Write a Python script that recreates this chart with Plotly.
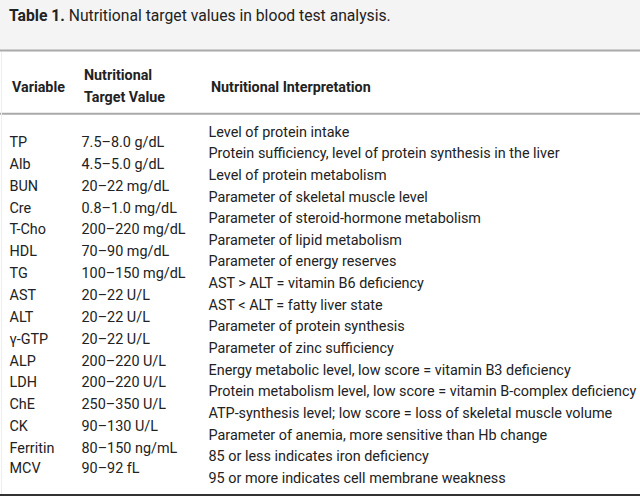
import plotly.graph_objects as go

W, H = 640, 498

variables = ["TP", "Alb", "BUN", "Cre", "T-Cho", "HDL", "TG", "AST", "ALT",
             "γ-GTP", "ALP", "LDH", "ChE", "CK", "Ferritin", "MCV"]
target_values = ["7.5–8.0 g/dL", "4.5–5.0 g/dL", "20–22 mg/dL", "0.8–1.0 mg/dL",
                 "200–220 mg/dL", "70–90 mg/dL", "100–150 mg/dL", "20–22 U/L",
                 "20–22 U/L", "20–22 U/L", "200–220 U/L", "200–220 U/L",
                 "250–350 U/L", "90–130 U/L", "80–150 ng/mL", "90–92 fL"]
interpretations = [
    "Level of protein intake",
    "Protein sufficiency, level of protein synthesis in the liver",
    "Level of protein metabolism",
    "Parameter of skeletal muscle level",
    "Parameter of steroid-hormone metabolism",
    "Parameter of lipid metabolism",
    "Parameter of energy reserves",
    "AST > ALT = vitamin B6 deficiency",
    "AST < ALT = fatty liver state",
    "Parameter of protein synthesis",
    "Parameter of zinc sufficiency",
    "Energy metabolic level, low score = vitamin B3 deficiency",
    "Protein metabolism level, low score = vitamin B-complex deficiency",
    "ATP-synthesis level; low score = loss of skeletal muscle volume",
    "Parameter of anemia, more sensitive than Hb change",
    "85 or less indicates iron deficiency",
    "95 or more indicates cell membrane weakness",
]
headers = ["Variable", ["Nutritional", "Target Value"], "Nutritional Interpretation"]
title_bold = "Table 1."
title_rest = "Nutritional target values in blood test analysis."

# column left edges (pixels)
col_x = [9.5, 81.5, 208.5]
# row layout (pixels)
left_first, left_step = 143.5, 21.85
right_first, right_step = 133.0, 21.65

FONT = "Roboto, 'Noto Sans', sans-serif"
TXT = "#222222"
BODY_SIZE = 14.4
HEAD_SIZE = 14.3

left_idx = list(range(len(variables)))
right_idx = list(range(len(interpretations)))
# MCV row spans two interpretation lines: middle-aligned
left_y = [i for i in left_idx]
left_y[-1] = left_y[-2] + 0.92

fig = go.Figure()
fig.add_trace(go.Scatter(x=[col_x[0]] * len(variables), y=left_y, text=variables,
                         mode="text", textposition="middle right",
                         textfont=dict(family=FONT, size=BODY_SIZE, color=TXT),
                         hoverinfo="skip", showlegend=False, xaxis="x", yaxis="y"))
fig.add_trace(go.Scatter(x=[col_x[1]] * len(target_values), y=left_y, text=target_values,
                         mode="text", textposition="middle right",
                         textfont=dict(family=FONT, size=BODY_SIZE, color=TXT),
                         hoverinfo="skip", showlegend=False, xaxis="x", yaxis="y"))
fig.add_trace(go.Scatter(x=[col_x[2]] * len(interpretations), y=right_idx, text=interpretations,
                         mode="text", textposition="middle right",
                         textfont=dict(family=FONT, size=BODY_SIZE, color=TXT),
                         hoverinfo="skip", showlegend=False, xaxis="x", yaxis="y2"))

def yrange(first, step):
    return [(H - first) / step, -first / step]

def py(px):
    return 1 - px / H

shapes = [
    dict(type="rect", xref="paper", yref="paper", x0=0, x1=1, y0=py(50), y1=1,
         fillcolor="#f4f4f4", line=dict(width=0), layer="below"),
    dict(type="line", xref="paper", yref="paper", x0=0, x1=1, y0=py(50.5), y1=py(50.5),
         line=dict(color="#aaaaaa", width=2)),
    dict(type="line", xref="paper", yref="paper", x0=0, x1=1, y0=py(113.7), y1=py(113.7),
         line=dict(color="#aaaaaa", width=2)),
    dict(type="line", xref="paper", yref="paper", x0=0, x1=1, y0=py(495), y1=py(495),
         line=dict(color="#333333", width=2)),
    dict(type="line", xref="paper", yref="paper", x0=1.5 / W, x1=1.5 / W, y0=py(52), y1=py(494),
         line=dict(color="#eeeeee", width=1)),
]

def head(text, x, ypx):
    return dict(xref="x", yref="paper", x=x, y=py(ypx), xanchor="left", yanchor="middle",
                text=f"<b>{text}</b>", showarrow=False,
                font=dict(family=FONT, size=HEAD_SIZE, color=TXT))

annotations = [
    dict(xref="x", yref="paper", x=7, y=py(15.5), xanchor="left", yanchor="middle",
         text=f"<b>{title_bold}</b> {title_rest}", showarrow=False,
         font=dict(family=FONT, size=15.7, color=TXT)),
    head(headers[0], col_x[0], 87),
    head(headers[1][0], col_x[1], 75),
    head(headers[1][1], col_x[1], 97),
    head(headers[2], col_x[2], 87),
]

fig.update_layout(
    width=W, height=H,
    margin=dict(l=0, r=0, t=0, b=0),
    paper_bgcolor="white", plot_bgcolor="rgba(0,0,0,0)",
    xaxis=dict(range=[0, W], visible=False, fixedrange=True),
    yaxis=dict(range=yrange(left_first, left_step), visible=False, fixedrange=True),
    yaxis2=dict(range=yrange(right_first, right_step), visible=False, overlaying="y",
                fixedrange=True),
    shapes=shapes, annotations=annotations,
)

fig.write_html("out.html", config={"displayModeBar": False},
               post_script="document.body.style.margin='0';document.body.style.overflow='hidden';")
